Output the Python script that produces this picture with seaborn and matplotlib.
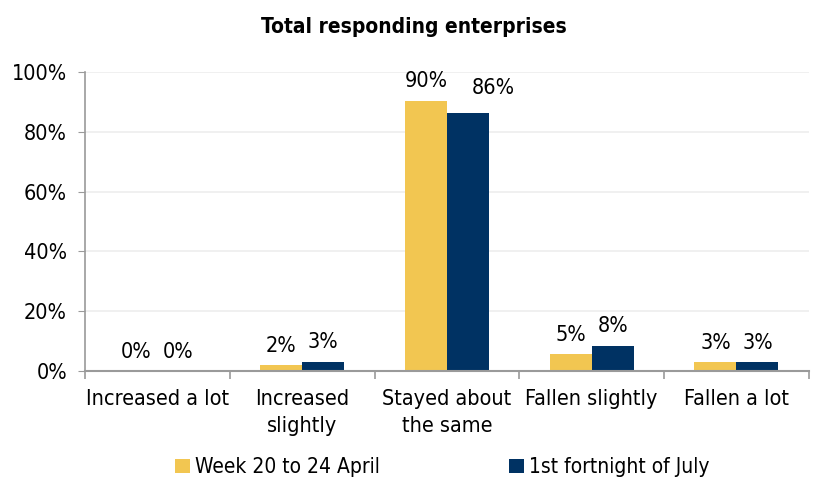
import pandas as pd
import seaborn as sns
import matplotlib.pyplot as plt
import numpy as np
from matplotlib.ticker import PercentFormatter, FixedLocator

sns.set_style("white")
plt.rcParams['font.family'] = ['DejaVu Sans']
plt.rcParams['font.stretch'] = 'condensed'
plt.rcParams['text.color'] = 'black'
plt.rcParams['xtick.color'] = 'black'
plt.rcParams['ytick.color'] = 'black'

# data
categories = ["Increased a lot", "Increased\nslightly", "Stayed about\nthe same",
              "Fallen slightly", "Fallen a lot"]
series = ["Week 20 to 24 April", "1st fortnight of July"]
april = [0.0, 2.0, 90.3, 5.6, 3.0]
july = [0.0, 3.2, 86.3, 8.4, 3.0]
april_labels = ["0%", "2%", "90%", "5%", "3%"]
july_labels = ["0%", "3%", "86%", "8%", "3%"]
colors = ["#F2C651", "#003263"]

df = pd.DataFrame({
    "category": categories * 2,
    "period": [series[0]] * 5 + [series[1]] * 5,
    "value": april + july,
})

fig, ax = plt.subplots(figsize=(8.17, 4.79), dpi=100)
sns.barplot(data=df, x="category", y="value", hue="period", palette=colors,
            width=0.58, ax=ax, saturation=1, linewidth=0, edgecolor="none")

# value labels above the bars
texts = []
for cont, labs in zip(ax.containers, [april_labels, july_labels]):
    texts.append(ax.bar_label(cont, labels=labs, padding=7, fontsize=15.5, color="black"))
# the 86% label sits a little to the right in the original so it doesn't touch 90%
texts[1][2].xyann = (18, 11)

ax.set_ylim(0, 100)
ax.set_yticks(np.arange(0, 101, 20))
ax.yaxis.set_major_formatter(PercentFormatter(decimals=0))
ax.yaxis.grid(True, color="#ededed", linewidth=1.2)
ax.set_axisbelow(True)
ax.set_xlim(-0.5, 4.5)

ax.set_xlabel("")
ax.set_ylabel("")
fig.suptitle("Total responding enterprises", fontsize=15, fontweight="bold", x=0.507, y=0.965)

for s in ["top", "right"]:
    ax.spines[s].set_visible(False)
ax.spines["left"].set_color("#9a9a9a")
ax.spines["bottom"].set_color("#9a9a9a")
ax.spines["left"].set_linewidth(1.2)
ax.spines["bottom"].set_linewidth(1.5)

ax.tick_params(axis="y", labelsize=15.5, left=True, length=5, color="#9a9a9a", pad=8)
ax.tick_params(axis="x", labelsize=15.5, bottom=False, pad=9)
for lab in ax.get_xticklabels():
    lab.set_linespacing(1.45)
ax.xaxis.set_minor_locator(FixedLocator(np.arange(-0.5, 5, 1)))
ax.tick_params(axis="x", which="minor", bottom=True, length=6, color="#9a9a9a", width=1.2)

ax.legend(loc="upper center", bbox_to_anchor=(0.494, -0.225), ncol=2, frameon=False,
          fontsize=15, handlelength=0.7, handleheight=0.7, handletextpad=0.25,
          columnspacing=6.2)

fig.subplots_adjust(left=0.104, right=0.99, top=0.85, bottom=0.225)
fig.savefig("out.png", dpi=100)
